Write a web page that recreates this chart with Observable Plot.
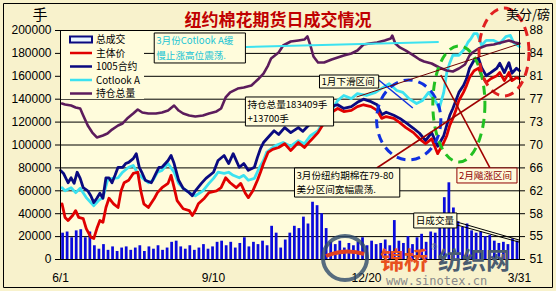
<!DOCTYPE html>
<html><head><meta charset="utf-8">
<script src="https://cdn.jsdelivr.net/npm/d3@7"></script>
<script src="https://cdn.jsdelivr.net/npm/@observablehq/plot@0.6"></script>
<style>
html,body{margin:0;padding:0;background:#F8F2CC;}
#chart{position:relative;width:556px;height:291px;}
svg{display:block;}
</style></head><body><div id="chart"></div>
<script>
// ---------- data ----------
const xTickDays = [0, 101, 202, 303];
const xTickLabels = ["6/1", "9/10", "12/20", "3/31"];
const leftTicks = [0,20000,40000,60000,80000,100000,120000,140000,160000,180000,200000];
const rightTickLabels = ["51","55","58","62","66","70","73","77","81","84","88"];
const priceMin = 51, priceMax = 88;

// daily volume (contracts), one bar per 3 days from 6/1
const volume = [23000,24000,19000,25000,26000,19000,24000,12000,9000,13000,8000,11000,7000,10000,11000,8000,10000,12000,7000,11000,
 9000,12000,8000,10000,15000,16000,11000,9000,12000,8000,10000,13000,9000,11000,15000,16000,12000,15000,10000,14000,
 19000,11000,15000,13000,16000,12000,29000,23000,10000,17000,23000,29000,27000,37000,31000,50000,47000,40000,27000,15000,
 13000,16000,10000,14000,12000,15000,19000,12000,16000,13000,14000,17000,12000,34000,16000,14000,20000,13000,19000,22000,
 15000,24000,23000,28000,54000,67000,45000,33000,28000,31000,25000,23000,24000,20000,21000,16000,14000,15000,13000,18000,16000];

// 1005 contract (US cents/lb)
const c1005Days = [0,2,5,7,9,11,13,15,18,20,22,24,26,28,30,32,34,36,38,41,43,45,48,50,52,54,56,60,63,65,67,71,73,75,78,81,85,87,89,93,
 96,101,104,108,111,114,118,121,124,128,130,132,134,138,141,144,148,152,157,160,163,167,170,174,177,181,183,187,192,196,
 200,205,209,212,215,220,224,228,233,237,241,245,249,253,255,257,259,261,263,266,268,270,273,276,278,281,284,288,290,293,296,298,301,303];
const c1005 = [65.4,64.9,63.4,64.2,63.3,65.1,64.1,62.6,62.1,61.3,60.2,60.9,61.7,60.9,64.2,64.2,63.4,64.6,65.9,65.9,
 66.5,66.7,67.3,68.1,65.9,64.9,63.8,63.4,64.9,65.9,65.9,67.0,67.8,66.5,63.8,62.5,61.8,61.3,62.1,63.3,
 64.1,65.1,67.0,67.8,66.5,68.1,65.9,66.5,65.4,65.9,67.5,68.9,69.9,71.0,71.8,71.2,72.3,71.5,72.3,71.7,
 72.5,73.5,74.3,74.8,75.4,75.9,76.0,75.4,75.7,76.4,76.9,76.5,76.0,74.4,74.8,74.3,73.8,73.1,72.2,71.4,
 70.2,71.5,69.3,71.0,72.7,74.3,75.4,76.7,78.0,79.1,80.2,81.9,83.2,83.5,82.0,80.7,81.2,81.9,82.7,81.2,82.8,81.1,81.9,81.5];

// main contract price
const mainDays = [1,3,5,8,10,12,15,17,20,22,24,26,28,30,32,35,38,40,42,45,48,51,53,55,58,62,64,67,71,73,
 75,77,81,85,87,89,91,95,98,103,106,109,112,116,119,122,124,127,130,132,134,137,140,144,148,152,157,161,165,170,
 174,179,183,187,192,196,200,205,209,212,215,220,224,228,233,237,241,245,249,253,255,257,259,261,263,266,268,270,273,276,
 278,281,284,288,290,293,296,298,301,303];
const mainPrice = [60.0,57.8,57.3,58.1,58.9,57.8,57.6,56.0,54.6,54.4,56.0,57.3,57.0,59.4,60.9,60.0,59.4,62.1,63.4,63.8,
 64.9,65.1,62.1,60.0,59.4,60.9,61.8,62.6,63.3,64.6,62.6,60.5,59.2,58.9,58.1,58.9,60.0,60.9,61.8,62.1,
 62.6,64.2,63.4,62.6,63.3,61.7,61.0,62.1,63.8,65.1,66.5,68.3,68.8,69.1,69.7,68.6,69.9,69.1,70.2,71.5,
 73.1,74.8,75.4,74.9,75.1,75.7,76.0,75.7,75.1,73.8,74.1,73.8,73.1,72.3,71.5,70.5,69.7,70.5,68.1,69.9,
 71.0,72.7,73.8,75.1,76.7,78.0,79.1,80.4,81.5,81.9,80.7,79.6,80.2,80.7,81.2,79.9,81.2,79.9,80.4,80.2];

// Cotlook A index
const cotDays = [1,3,7,10,13,17,20,22,25,28,31,34,38,41,45,48,51,54,58,61,64,67,71,75,78,81,85,89,94,98,
 101,104,108,111,114,118,121,124,128,131,134,136,139,142,147,152,157,161,165,170,174,179,183,187,192,196,202,208,213,217,
 222,226,230,235,239,243,248,250,253,255,257,259,263,267,269,271,273,275,278,281,286,290,294,297,299,303];
const cotlook = [62.6,62.1,62.6,61.8,62.5,61.0,60.2,59.7,60.5,61.0,63.8,64.1,64.2,65.1,65.9,66.2,64.9,64.2,63.4,63.8,
 65.1,65.4,66.5,65.1,63.3,62.5,61.8,61.3,62.1,63.3,64.1,65.1,64.9,65.1,64.6,64.2,64.6,63.8,64.1,65.7,
 67.0,68.3,68.9,69.4,69.9,69.3,70.2,69.7,71.0,71.8,73.5,75.1,76.7,77.5,77.0,77.8,77.5,78.0,78.8,79.4,
 78.3,78.0,77.0,76.2,76.7,78.0,76.4,75.4,78.0,81.2,82.8,84.0,84.0,85.1,86.1,86.7,87.5,87.5,85.6,86.4,
 86.4,85.9,87.0,87.2,86.1,85.4];

// total open interest (contracts)
const oiDays = [1,3,7,10,13,15,18,21,24,28,31,34,38,41,44,48,51,54,58,63,67,71,75,78,81,85,89,94,98,103,
 106,109,112,117,121,126,131,134,137,139,144,147,152,157,161,163,165,167,170,174,179,183,187,192,196,200,204,209,214,218,
 219,221,224,228,233,237,240,245,250,255,259,263,267,270,272,276,281,286,291,296,300,303];
const openInterest = [136200,135400,134500,132800,131900,125800,117000,110900,106600,108300,110000,113500,117000,118800,123100,127500,131000,128400,127500,127500,
 128400,130100,134500,130100,127500,125800,124900,125800,127500,129300,131900,141500,145900,149300,150200,152000,158100,162400,169400,175500,
 180800,186900,190400,191300,192100,194800,186900,177300,172100,172100,174700,176400,178200,179900,182500,187800,188600,189500,191300,193000,
 195600,188600,185200,182500,178200,174700,172900,171200,167700,165100,164200,166800,170300,178200,180800,184300,186900,187800,189500,191300,189500,188600];

// ---------- helpers ----------
const toLeft = p => (p - priceMin) / (priceMax - priceMin) * 200000;
const volData = volume.map((v, i) => ({day: i * 3, v}));
const c1005Data = c1005Days.map((d, i) => ({day: d, v: toLeft(c1005[i])}));
const mainData = mainDays.map((d, i) => ({day: d, v: toLeft(mainPrice[i])}));
const cotData = cotDays.map((d, i) => ({day: d, v: toLeft(cotlook[i])}));
const oiData = oiDays.map((d, i) => ({day: d, v: openInterest[i]}));
const rightMap = new Map(leftTicks.map((t, i) => [t, rightTickLabels[i]]));
const xMap = new Map(xTickDays.map((t, i) => [t, xTickLabels[i]]));

const PLOT_BG = "#FFFCDC";
const CJK = "'Noto Sans CJK SC', 'Noto Sans', sans-serif";

// annotation callouts, in data units (day, contracts)
const boxes = [
  {x1: 62.2, x2: 122.4, y1: 197400, y2: 171200, lines: ["3月份Cotlook A缓", "慢止涨高位震荡."], color: "#18C4D4", border: "#000"},
  {x1: 122.4, x2: 180.6, y1: 141500, y2: 116200, lines: ["持仓总量183409手", "+13700手"], color: "#000", border: "#000"},
  {x1: 171.3, x2: 210.4, y1: 160700, y2: 149300, lines: ["1月下滑区间"], color: "#000", border: "#000"},
  {x1: 154.8, x2: 224.3, y1: 79500, y2: 54100, lines: ["3月份纽约期棉在79-80", "美分区间宽幅震荡."], color: "#000", border: "#000"},
  {x1: 262, x2: 301.7, y1: 79500, y2: 66400, lines: ["2月飚涨区间"], color: "#900000", border: "#900000"},
  {x1: 233.5, x2: 262, y1: 40200, y2: 27100, lines: ["日成交量"], color: "#000", border: "#000"}
];
const boxLines = boxes.flatMap(b => b.lines.map((t, i) => ({
  text: t, x: b.x1, y: b.y1 - (b.y1 - b.y2) * (i + 0.5) / b.lines.length, color: b.color
})));

const chart = Plot.plot({
  width: 556, height: 291,
  marginLeft: 60, marginRight: 37, marginTop: 30, marginBottom: 32,
  style: {background: "#F8F2CC", fontFamily: "'Liberation Sans', Arial, sans-serif", fontSize: "12px", color: "#000", overflow: "visible"},
  x: {domain: [0, 303], axis: null},
  y: {domain: [0, 200000], axis: null},
  marks: [
    Plot.frame({fill: PLOT_BG}),
    Plot.ruleY(leftTicks.slice(1, -1), {stroke: "#000", strokeWidth: 1}),
    Plot.rectY(volData, {x1: "day", x2: d => d.day + 3, y: "v", fill: "#0A0ADC", insetLeft: 1.2, insetRight: 0.6}),
    Plot.line(cotData, {x: "day", y: "v", stroke: "#3CE2F0", strokeWidth: 2.8}),
    Plot.line(c1005Data, {x: "day", y: "v", stroke: "#0A0A80", strokeWidth: 2.8}),
    Plot.line(mainData, {x: "day", y: "v", stroke: "#E00000", strokeWidth: 2.8}),
    Plot.line(oiData, {x: "day", y: "v", stroke: "#5C1C5C", strokeWidth: 2.6}),
    Plot.frame({stroke: "#000", strokeWidth: 1}),
    Plot.axisY(leftTicks, {anchor: "left", label: null, tickSize: 5, tickPadding: 4, tickFormat: d => String(d), fontSize: 12}),
    Plot.axisY(leftTicks, {anchor: "right", label: null, tickSize: 5, tickPadding: 5, tickFormat: d => rightMap.get(d), fontSize: 12}),
    Plot.axisX(xTickDays, {anchor: "bottom", label: null, tickSize: 0, tickPadding: 14, tickFormat: d => xMap.get(d), fontSize: 12})
  ]
});
document.getElementById("chart").appendChild(chart);

// ---------- annotations (data coordinates through the scales) ----------
const sx = chart.scale("x"), sy = chart.scale("y");
const X = v => sx.apply(v), Y = v => sy.apply(v);
const svg = d3.select(chart);
const g = svg.append("g").attr("text-anchor", "start");
const boxPath = (x1, y1, x2, y2) => `M${x1},${y1}H${x2}V${y2}H${x1}Z`;

const ellipses = [
  {cx: 230.2, cy: 121400, rx: 21.2, ry: 34900, color: "#1030E0"},
  {cx: 263.3, cy: 135400, rx: 17.2, ry: 50700, color: "#22C022"},
  {cx: 293.1, cy: 180800, rx: 16.5, ry: 38400, color: "#E02020"}
];
ellipses.forEach(e => {
  g.append("ellipse").attr("cx", X(e.cx)).attr("cy", Y(e.cy))
    .attr("rx", X(e.cx + e.rx) - X(e.cx)).attr("ry", Y(e.cy) - Y(e.cy + e.ry))
    .style("fill", "none").style("stroke", e.color).attr("stroke-width", 3).attr("stroke-dasharray", "9,6");
});

const links = [
  {a: [122.4, 185200], b: [250, 189500], color: "#3CE2F0", w: 2},
  {a: [209.1, 79500], b: [299, 158100], color: "#A00000", w: 1.6},
  {a: [283.8, 79500], b: [251.4, 160700], color: "#A00000", w: 1.6},
  {a: [195.8, 141500], b: [303, 187800], color: "#700000", w: 1},
  {a: [210.4, 156300], b: [232.9, 131900], color: "#1030E0", w: 1.5},
  {a: [262, 32300], b: [303, 16600], color: "#000", w: 1},
  {a: [262, 29700], b: [303, 14800], color: "#000", w: 1}
];
links.forEach(l => {
  g.append("line").attr("x1", X(l.a[0])).attr("y1", Y(l.a[1])).attr("x2", X(l.b[0])).attr("y2", Y(l.b[1]))
    .style("stroke", l.color).attr("stroke-width", l.w);
});

boxes.forEach(b => {
  g.append("path").attr("d", boxPath(X(b.x1), Y(b.y1), X(b.x2), Y(b.y2)))
    .style("fill", PLOT_BG).style("stroke", b.border).attr("stroke-width", 1);
});
boxLines.forEach(t => {
  g.append("text").attr("x", X(t.x) + 2).attr("y", Y(t.y)).attr("dy", "0.36em").attr("text-anchor", "start")
    .attr("font-family", CJK).attr("font-size", 9.6).style("fill", t.color).text(t.text);
});

// ---------- legend ----------
const legendItems = [
  {label: "总成交", type: "rect", color: "#0A0A80"},
  {label: "主体价", type: "line", color: "#E00000"},
  {label: "1005合约", type: "line", color: "#0A0A80"},
  {label: "Cotlook A", type: "line", color: "#3CE2F0"},
  {label: "持仓总量", type: "line", color: "#5C1C5C"}
];
const lg = svg.append("g").attr("text-anchor", "start");
lg.append("path").attr("d", boxPath(61, 31, 144, 99)).style("fill", PLOT_BG).style("stroke", "none");
legendItems.forEach((it, i) => {
  const cy = 39.5 + i * 13.5;
  if (it.type === "rect") {
    lg.append("path").attr("d", boxPath(70, cy - 3, 92, cy + 3))
      .style("fill", "#E8F4FF").style("stroke", it.color).attr("stroke-width", 2);
  } else {
    lg.append("line").attr("x1", 70).attr("x2", 92).attr("y1", cy).attr("y2", cy)
      .style("stroke", it.color).attr("stroke-width", 2.5);
  }
  lg.append("text").attr("x", 96).attr("y", cy).attr("dy", "0.36em").attr("text-anchor", "start")
    .attr("font-family", CJK).attr("font-size", 9.8).style("fill", "#000").text(it.label);
});

// ---------- titles ----------
svg.append("text").attr("x", 278).attr("y", 20).attr("dy", "0.36em").attr("text-anchor", "middle")
  .attr("font-family", CJK).attr("font-weight", "bold").attr("font-size", 17).style("fill", "#C00000")
  .text("纽约棉花期货日成交情况");
svg.append("text").attr("x", 40).attr("y", 15).attr("dy", "0.36em").attr("text-anchor", "middle")
  .attr("font-family", CJK).attr("font-size", 15).style("fill", "#000").text("手");
svg.append("text").attr("x", 528).attr("y", 14).attr("dy", "0.36em").attr("text-anchor", "middle")
  .attr("font-family", CJK).attr("font-size", 13).style("fill", "#000").text("美分/磅");

// ---------- watermark ----------
const wm = svg.append("g").attr("text-anchor", "start");
wm.append("circle").attr("cx", 345).attr("cy", 258).attr("r", 22).style("fill", "none").style("stroke", "#2E4A6A").attr("stroke-width", 4).attr("opacity", 0.8);
wm.append("path").attr("d", "M326,256 Q345,248 364,254").style("fill", "none").style("stroke", "#E04020").attr("stroke-width", 4);
wm.append("text").attr("x", 380).attr("y", 260).attr("dy", "0.36em").attr("font-family", CJK).attr("font-weight", "bold")
  .attr("font-size", 24).style("fill", "#E8501E").text("锦桥");
wm.append("text").attr("x", 430).attr("y", 250).attr("font-family", "'DejaVu Sans'").attr("font-size", 8).style("fill", "#6A7A8A").text("®");
wm.append("text").attr("x", 438).attr("y", 260).attr("dy", "0.36em").attr("font-family", CJK).attr("font-weight", "bold")
  .attr("font-size", 24).style("fill", "#4A5C70").text("纺织网");
wm.append("text").attr("x", 386).attr("y", 281).attr("dy", "0.36em").attr("font-family", "'DejaVu Sans Mono', monospace")
  .attr("font-size", 12).style("fill", "#8A8A8A").text("www.sinotex.cn");

// outer border
svg.append("path").attr("d", boxPath(3.5, 3.5, 552.5, 287.5)).style("fill", "none").style("stroke", "#000").attr("stroke-width", 1);
</script>
</body></html>
